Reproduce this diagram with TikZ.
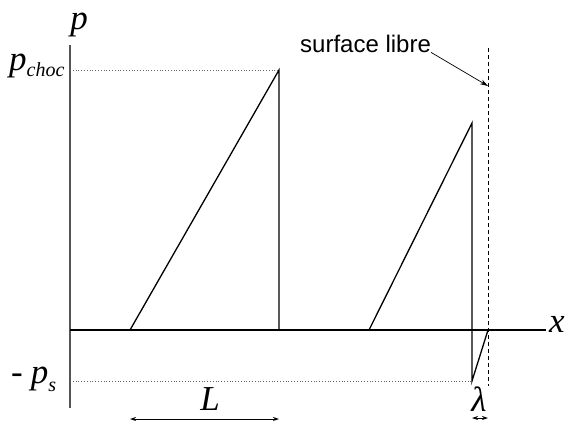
\documentclass[tikz,border=0pt]{standalone}
\usepackage{fontspec}
\setmainfont{Liberation Serif}
\newfontfamily\labelfont{Liberation Sans}
\usetikzlibrary{arrows.meta,positioning}
\definecolor{axisgray}{HTML}{555555}
\definecolor{guidegray}{HTML}{666666}

\begin{document}
\begin{tikzpicture}[x=1pt,y=-1pt,
 axis/.style={draw=axisgray,line width=1.8pt},
 wave/.style={draw=black,line width=1.3pt},
 guide/.style={draw=guidegray,dotted,line width=0.8pt},
 wall/.style={draw=black,dashed,line width=0.8pt,dash pattern=on 4pt off 3pt},
 dim/.style={{Stealth[length=6pt,width=4pt]}-{Stealth[length=6pt,width=4pt]},line width=0.9pt},
 lbl/.style={inner sep=0pt,font=\fontsize{35}{38}\selectfont\itshape},
 note/.style={inner sep=0pt,font=\fontsize{24}{26}\selectfont\labelfont}]
 \useasboundingbox (0,0) rectangle (569,423);
 % axes
 \coordinate (ytop) at (70,45);
 \coordinate (ybot) at (70,408);
 \coordinate (origin) at (70,330);
 \coordinate (xend) at (546,330);
 \draw[axis] (ytop)--(ybot);
 \draw[wave] (origin)--(xend);
 % first sawtooth
 \coordinate (a0) at (130,330);
 \coordinate (a1) at (279,70);
 \coordinate (a2) at (279,330);
 \draw[wave] (a0)--(a1)--(a2);
 % second sawtooth near the surface
 \coordinate (b0) at (369,330);
 \coordinate (b1) at (472,123);
 \coordinate (b2) at (472,381);
 \coordinate (b3) at (488,330);
 \draw[wave] (b0)--(b1)--(b2)--(b3);
 % guides
 \coordinate (choclevel) at (70,70);
 \coordinate (pslevel) at (70,381);
 \draw[guide] (choclevel)--(a1);
 \draw[guide] (pslevel)--(b2);
 \coordinate (walltop) at (488.5,48);
 \coordinate (wallbot) at (488.5,386);
 \draw[wall] (walltop)--(wallbot);
 % labels
 \node[lbl,anchor=base] (plabel) at (79,29) {p};
 \node[lbl] (xlabel) at (557,324) {x};
 \node[lbl,anchor=base west] (pchoc) at (9,70)
   {p\raisebox{-6pt}{\fontsize{20}{21}\selectfont choc}};
 \node[lbl,anchor=base west] (pslabel) at (11,383)
   {-\hspace{8pt}p\raisebox{-8pt}{\fontsize{20}{21}\selectfont s}};
 \node[note,anchor=base west] (surf) at (300,52) {surface libre};
 \coordinate (surftip) at (488,86);
 \draw[-{Stealth[length=8pt,width=5pt]},line width=0.7pt] (surf.south east)--(surftip);
 % lengths
 \coordinate (Lleft) at (130,419);
 \coordinate (Lright) at (279,419);
 \draw[dim] (Lleft)--(Lright);
 \node[lbl] (Llabel) at (210,399) {L};
 \coordinate (lamleft) at (472,418);
 \coordinate (lamright) at (488,418);
 \draw[dim] (lamleft)--(lamright);
 \node[lbl] (lamlabel) at (479,399) {λ};
\end{tikzpicture}
\end{document}
